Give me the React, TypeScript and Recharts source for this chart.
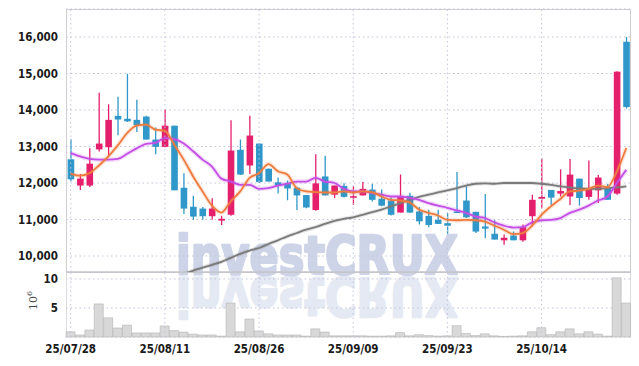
import { ComposedChart, BarChart, Bar, Line, XAxis, YAxis, CartesianGrid, ReferenceLine } from 'recharts'

const dates = [
  '25/07/28', '25/07/29', '25/07/30', '25/07/31', '25/08/01',
  '25/08/04', '25/08/05', '25/08/06', '25/08/07', '25/08/08',
  '25/08/11', '25/08/12', '25/08/13', '25/08/14', '25/08/18',
  '25/08/19', '25/08/20', '25/08/21', '25/08/22', '25/08/25',
  '25/08/26', '25/08/27', '25/08/28', '25/08/29', '25/09/01',
  '25/09/02', '25/09/03', '25/09/04', '25/09/05', '25/09/08',
  '25/09/09', '25/09/10', '25/09/11', '25/09/12', '25/09/15',
  '25/09/16', '25/09/17', '25/09/18', '25/09/19', '25/09/22',
  '25/09/23', '25/09/24', '25/09/25', '25/09/26', '25/09/29',
  '25/09/30', '25/10/01', '25/10/02', '25/10/10', '25/10/13',
  '25/10/14', '25/10/15', '25/10/16', '25/10/17', '25/10/20',
  '25/10/21', '25/10/22', '25/10/23', '25/10/24', '25/10/27',
]
const labelDates = ['25/07/28', '25/08/11', '25/08/26', '25/09/09', '25/09/23', '25/10/14']

const opens = [
  12650, 11930, 11930, 12920, 12980, 13840, 13760, 13730, 13820, 13190,
  12990, 13570, 11870, 11350, 11300, 11090, 10970, 11130, 12910, 12480,
  13080, 12390, 12020, 11990, 11870, 11670, 11260, 12180, 11680, 11920,
  11600, 11660, 11820, 11570, 11520, 11190, 11650, 11220, 11100, 10990,
  10900, 11220, 11520, 11210, 10810, 10610, 10430, 10560, 10430, 11090,
  11570, 11810, 11710, 11630, 12120, 11620, 11800, 11860, 11710, 15870,
]
const highs = [
  13200, 12250, 12950, 14470, 14160, 14360, 14990, 14280, 13840, 13520,
  14010, 13570, 12270, 11650, 11340, 11580, 11100, 13720, 13190, 13840,
  13080, 12400, 12150, 12070, 11900, 11670, 12790, 12750, 11930, 11990,
  11910, 12030, 11980, 11820, 11600, 12230, 11730, 11340, 11270, 11270,
  11180, 12300, 11910, 11210, 11700, 10980, 10590, 10670, 10860, 11680,
  12670, 11810, 12380, 12660, 12120, 12620, 12220, 11970, 15060, 16000,
]
const lows = [
  12050, 11810, 11890, 12860, 12730, 13310, 13670, 13400, 13190, 12790,
  12980, 11800, 11150, 10990, 10990, 10990, 10850, 11100, 12220, 12250,
  12000, 12040, 11710, 11530, 11260, 11310, 11240, 11660, 11590, 11600,
  11400, 11660, 11490, 11360, 11110, 11190, 11180, 10860, 10790, 10880,
  10610, 11180, 11040, 10630, 10490, 10450, 10310, 10430, 10390, 10810,
  11300, 11400, 11630, 11400, 11380, 11540, 11450, 11540, 11680, 14040,
]
const closes = [
  12100, 12120, 12530, 13080, 13730, 13740, 13690, 13580, 13190, 12990,
  13570, 11800, 11300, 11080, 11090, 11300, 11020, 12890, 12230, 13300,
  12030, 12040, 11930, 11850, 11660, 11330, 11990, 11660, 11930, 11620,
  11640, 11840, 11540, 11380, 11130, 11630, 11190, 10950, 10850, 10880,
  10830, 11180, 11060, 10670, 10750, 10450, 10500, 10430, 10790, 11540,
  11620, 11600, 11780, 12230, 11590, 11840, 12150, 11540, 15050, 14080,
]
const ma5 = [
  12250, 12200, 12270, 12480, 12730, 13030, 13370, 13570, 13600, 13460,
  13430, 13050, 12640, 12180, 11770, 11380, 11190, 11500, 11770, 12140,
  12270, 12520, 12320, 12230, 11860, 11770, 11750, 11740, 11740, 11770,
  11740, 11770, 11750, 11630, 11540, 11520, 11470, 11270, 11180, 11110,
  10990, 10980, 10990, 10980, 10940, 10830, 10720, 10600, 10630, 10830,
  11130, 11360, 11560, 11770, 11790, 11840, 11930, 11890, 12320, 12960,
]
const ma20 = [
  12820, 12730, 12660, 12640, 12640, 12660, 12800, 12950, 13070, 13100,
  13230, 13200, 13080, 12870, 12640, 12450, 12120, 12040, 11950, 11950,
  11840, 11860, 11930, 11980, 12040, 12040, 12140, 12040, 12000, 11840,
  11770, 11770, 11730, 11680, 11630, 11630, 11590, 11540, 11450, 11380,
  11320, 11250, 11180, 11080, 11040, 10920, 10830, 10780, 10790, 10920,
  10980, 10990, 11040, 11180, 11270, 11380, 11520, 11630, 12000, 12360,
]
const ma60 = [
  null, null, null, null, null, null, null, null, null, null,
  null, null, 9500, 9600, 9680, 9760, 9840, 9950, 10060, 10150,
  10220, 10330, 10430, 10540, 10630, 10720, 10790, 10880, 10960, 11020,
  11060, 11130, 11200, 11270, 11360, 11450, 11540, 11620, 11680, 11740,
  11800, 11860, 11930, 11980, 11990, 11980, 12000, 12000, 12000, 12000,
  11980, 11950, 11910, 11880, 11850, 11840, 11840, 11860, 11880, 11910,
]
// volume in millions of shares
const volumes = [
  0.9, 0.35, 1.2, 5.7, 3.3, 1.55, 2.05, 0.7, 0.7, 0.7,
  1.9, 1.1, 0.85, 0.5, 0.35, 0.35, 0.15, 5.85, 0.9, 3.1,
  1.05, 0.55, 0.35, 0.35, 0.35, 0.15, 1.4, 0.85, 0.2, 0.2,
  0.2, 0.2, 0.15, 0.15, 0.2, 0.75, 0.2, 0.4, 0.25, 0.15,
  0.2, 1.95, 0.6, 0.25, 0.55, 0.2, 0.1, 0.15, 0.2, 0.9,
  1.6, 0.4, 0.9, 1.4, 0.55, 0.9, 0.5, 0.15, 10.2, 5.85,
]
const priceTicks = [10000, 11000, 12000, 13000, 14000, 15000, 16000]
const volumeTicks = [5, 10]

const RED = '#e4206c'
const BLUE = '#2f97c9'
const GRID = '#c2c4dc'
const FONT = "'DejaVu Sans Condensed', 'DejaVu Sans', sans-serif"
const MARK = '#cdd4e8'

const rows = dates.map((date, i) => ({
  date,
  open: opens[i],
  high: highs[i],
  low: lows[i],
  close: closes[i],
  range: [lows[i], highs[i]],
  ma5: ma5[i],
  ma20: ma20[i],
  ma60: ma60[i],
  volume: volumes[i],
}))

function Candle(props: any) {
  const { x, y, width, height } = props
  const p = props.payload || props
  const up = p.close >= p.open
  const color = up ? RED : BLUE
  const h = Math.abs(height)
  const top = height < 0 ? y + height : y
  const ppu = p.high - p.low > 0 ? h / (p.high - p.low) : 0
  const yOf = (v: number) => top + (p.high - v) * ppu
  const cx = x + width / 2
  const bTop = yOf(Math.max(p.open, p.close))
  const bBot = yOf(Math.min(p.open, p.close))
  const bw = 6.6
  return (
    <g>
      <line x1={cx} x2={cx} y1={top} y2={top + h} stroke={color} strokeWidth={1.3} />
      <rect x={cx - bw / 2} y={bTop} width={bw} height={Math.max(bBot - bTop, 1.6)} fill={color} />
    </g>
  )
}

const tickStyle = { fontFamily: FONT, fontSize: 11.5, fontWeight: 'bold', fill: '#1a1a1a' }

export default function App() {
  return (
    <div style={{ position: 'absolute', left: 0, top: 0, width: 639, height: 366, background: '#fff' }}>
      <svg width={639} height={366} style={{ position: 'absolute', left: 0, top: 0 }}>
        <text x={176} y={274} fontFamily="'DejaVu Sans', sans-serif" fontWeight="bold" fontSize={54}
          textLength={282} lengthAdjust="spacingAndGlyphs" fill={MARK} stroke={MARK} strokeWidth={2.5}
          strokeLinejoin="round">investCRUX</text>
        <g transform="translate(0,552) scale(1,-1)" opacity={0.5}>
          <text x={176} y={274} fontFamily="'DejaVu Sans', sans-serif" fontWeight="bold" fontSize={54}
            textLength={282} lengthAdjust="spacingAndGlyphs" fill={MARK} stroke={MARK} strokeWidth={2.5}
            strokeLinejoin="round">investCRUX</text>
        </g>
        <rect x={66.5} y={9.5} width={564} height={262.5} fill="none" stroke="#cfcfcf" strokeWidth={1} />
        <line x1={66.5} x2={66.5} y1={272} y2={337.5} stroke="#dcdcdc" />
        <line x1={630.5} x2={630.5} y1={272} y2={337.5} stroke="#dcdcdc" />
        <line x1={66} x2={631} y1={272.3} y2={272.3} stroke="#c6c6c6" strokeWidth={1.5} />
        <text transform="translate(37,310) rotate(-90)" fontSize={11} fill="#444"
          fontFamily="'DejaVu Serif', serif">10<tspan dy={-5} fontSize={8}>6</tspan></text>
      </svg>

      <div style={{ position: 'absolute', left: 0, top: 0 }}>
        <ComposedChart width={639} height={272} data={rows} margin={{ top: 9, right: 8, bottom: 0, left: 6 }}>
          <CartesianGrid vertical={false} stroke={GRID} strokeDasharray="1.5 3" />
          <XAxis dataKey="date" hide />
          <YAxis domain={[9562, 16767]} ticks={priceTicks} allowDataOverflow width={60}
            axisLine={false} tickLine={false} tick={tickStyle}
            tickFormatter={(v: number) => v.toLocaleString('en-US')} />
          {labelDates.map((d) => (
            <ReferenceLine key={d} x={d} stroke={GRID} strokeDasharray="1.5 3" />
          ))}
          <Line dataKey="ma60" stroke="#777" strokeWidth={4} strokeOpacity={0.2} dot={false} type="monotone" isAnimationActive={false} />
          <Line dataKey="ma60" stroke="#7a7a7a" strokeWidth={1.8} dot={false} type="monotone" isAnimationActive={false} />
          <Bar dataKey="range" shape={Candle} isAnimationActive={false} />
          <Line dataKey="ma20" stroke="#c44ee6" strokeWidth={4.5} strokeOpacity={0.2} dot={false} type="monotone" isAnimationActive={false} />
          <Line dataKey="ma20" stroke="#c44ee6" strokeWidth={1.8} dot={false} type="monotone" isAnimationActive={false} />
          <Line dataKey="ma5" stroke="#ef7b3e" strokeWidth={4.5} strokeOpacity={0.2} dot={false} type="monotone" isAnimationActive={false} />
          <Line dataKey="ma5" stroke="#ef7b3e" strokeWidth={1.8} dot={false} type="monotone" isAnimationActive={false} />
        </ComposedChart>
      </div>

      <div style={{ position: 'absolute', left: 0, top: 272 }}>
        <BarChart width={639} height={94} data={rows} margin={{ top: 0, right: 8, bottom: 0, left: 6 }} barCategoryGap={0}>
          <CartesianGrid vertical={false} stroke={GRID} strokeDasharray="1.5 3" />
          <XAxis dataKey="date" ticks={labelDates} interval={0} axisLine={false} tickLine={false}
            height={29} tick={tickStyle} />
          <YAxis domain={[0, 11.2]} ticks={volumeTicks} width={60} axisLine={false} tickLine={false} tick={tickStyle} />
          {labelDates.map((d) => (
            <ReferenceLine key={d} x={d} stroke={GRID} strokeDasharray="1.5 3" />
          ))}
          <Bar dataKey="volume" fill="#d8d8d8" stroke="#b4b4b4" strokeWidth={0.6} isAnimationActive={false} />
        </BarChart>
      </div>
    </div>
  )
}
